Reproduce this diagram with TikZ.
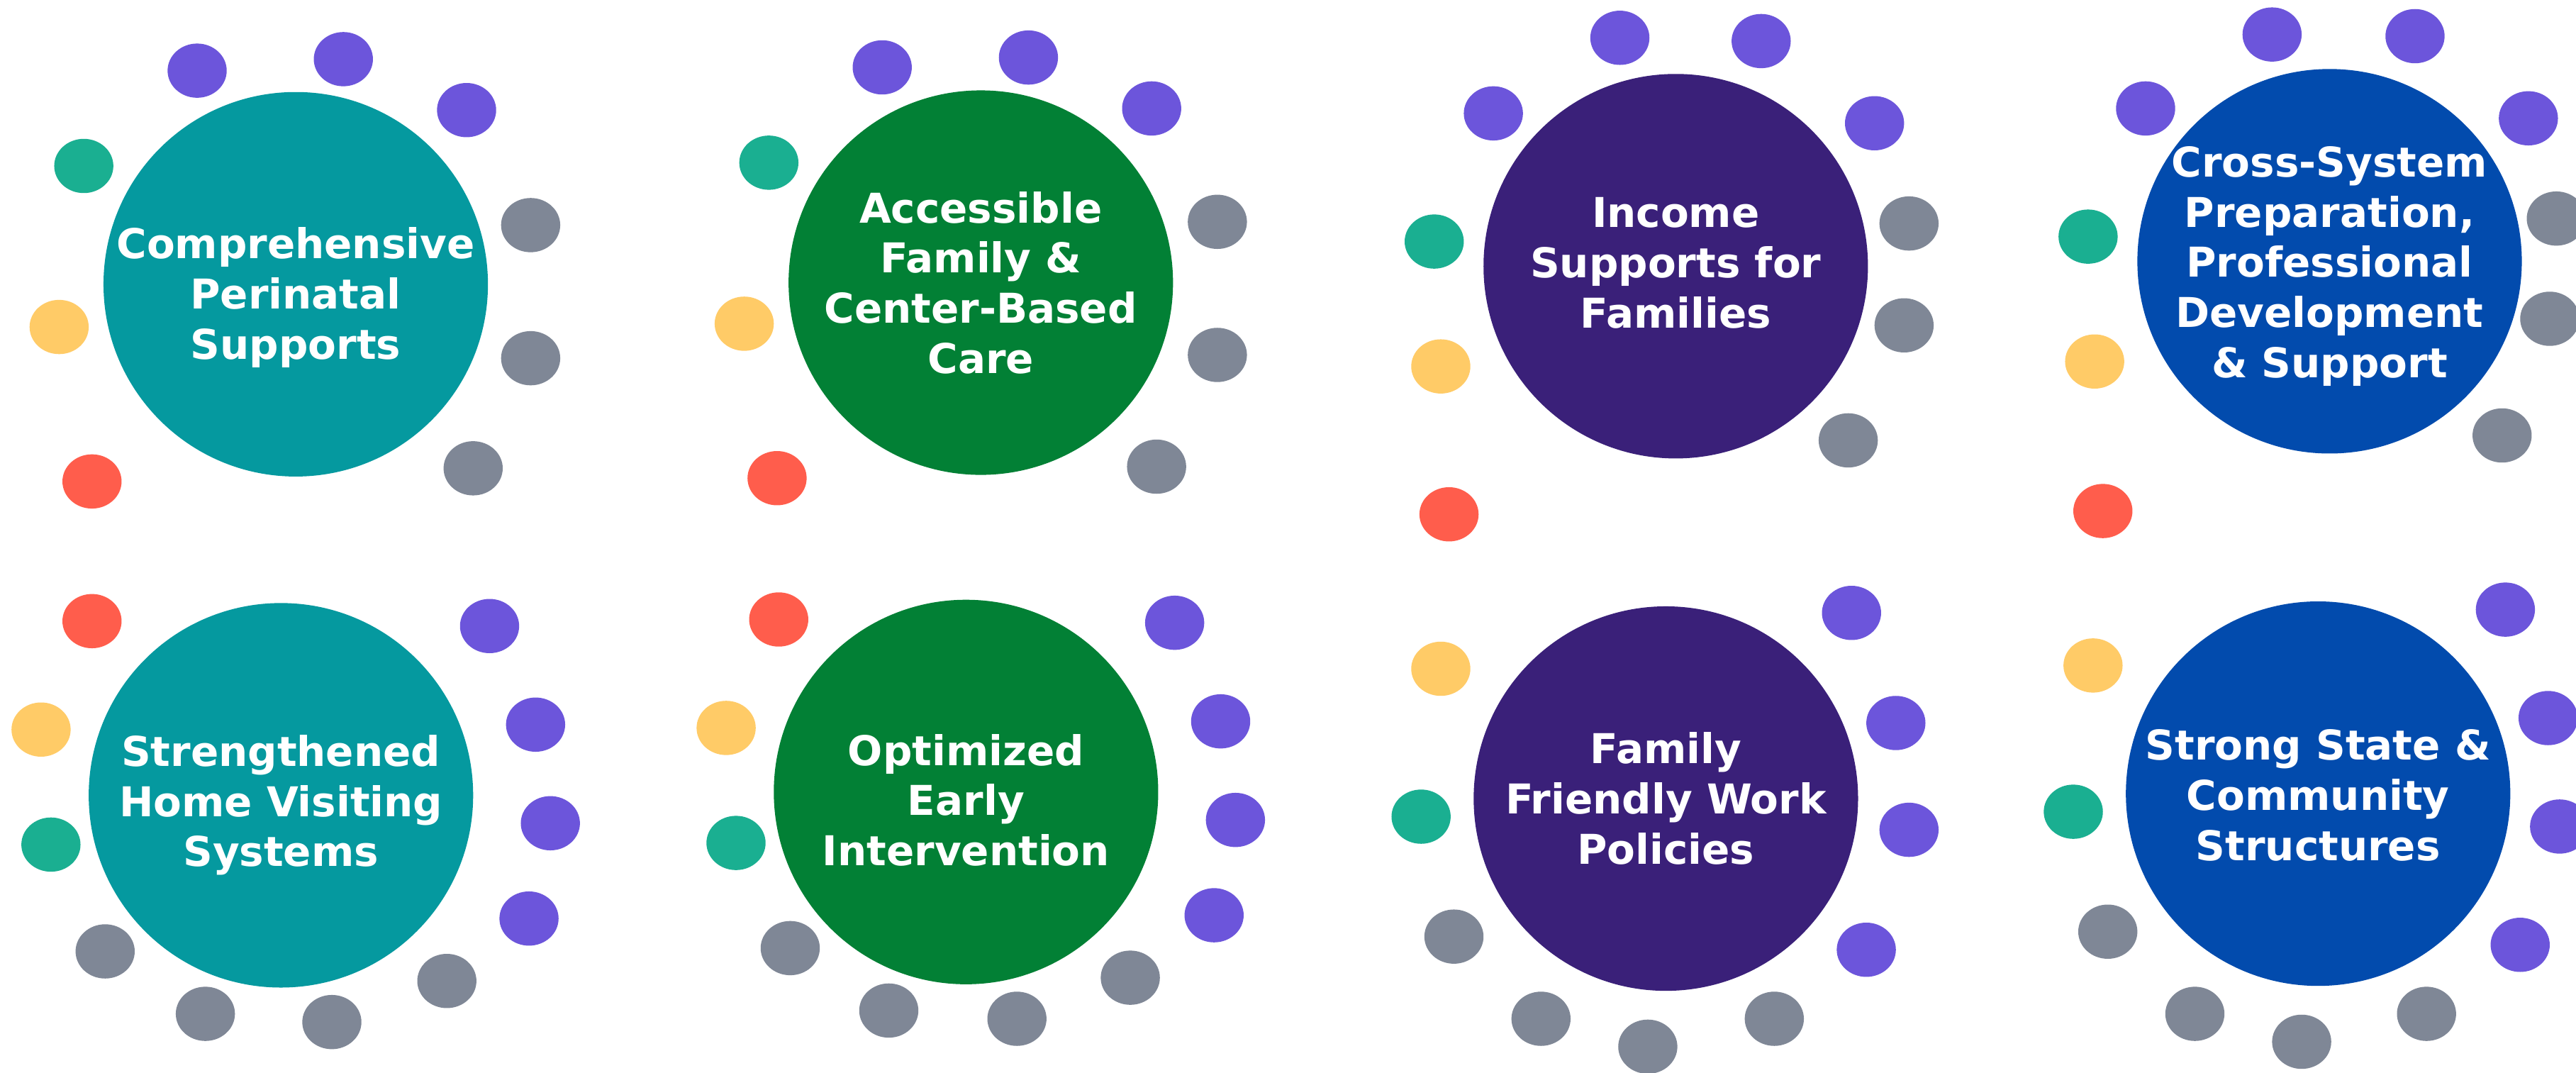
\documentclass[tikz,border=0pt]{standalone}
\usepackage{fontspec}
\setmainfont{DejaVu Sans}
\usetikzlibrary{shapes.geometric}
\definecolor{cteal}{HTML}{05999F}
\definecolor{cgreen}{HTML}{028035}
\definecolor{cpurple}{HTML}{3A2079}
\definecolor{cblue}{HTML}{024BAD}
\definecolor{dpur}{HTML}{6C55DB}
\definecolor{dgry}{HTML}{7F8796}
\definecolor{dgrn}{HTML}{1AAF91}
\definecolor{dyel}{HTML}{FFCB67}
\definecolor{dred}{HTML}{FF5D4C}
\tikzset{
  bigc/.style={circle, minimum size=234pt, inner sep=0pt, fill=#1},
  lbl/.style={inner sep=0pt, text=white, align=center,
    font=\fontsize{25}{30.5}\selectfont\bfseries},
  dot/.style={ellipse, minimum width=36pt, minimum height=33pt, inner sep=0pt, fill=#1},
}
\begin{document}
\begin{tikzpicture}[x=1pt,y=-1pt]
\clip (0,0) rectangle (1568,653);
\fill[white] (0,0) rectangle (1568,653);
% Panel 1
\node[bigc=cteal] (c1) at (180,173) {};
\node[lbl, yshift=-8pt] (t1) at (c1.center) {Comprehensive\\Perinatal\\Supports};
\node[dot=dpur] (p1a) at (120,43) {};
\node[dot=dpur] (p1b) at (209,36) {};
\node[dot=dpur] (p1c) at (284,67) {};
\node[dot=dgrn] (p1d) at (51,101) {};
\node[dot=dgry] (p1e) at (323,137) {};
\node[dot=dyel] (p1f) at (36,199) {};
\node[dot=dgry] (p1g) at (323,218) {};
\node[dot=dred] (p1h) at (56,293) {};
\node[dot=dgry] (p1i) at (288,285) {};
% Panel 2
\node[bigc=cgreen] (c2) at (597,172) {};
\node[lbl] (t2) at (c2.center) {Accessible\\Family \&\\Center-Based\\Care};
\node[dot=dpur] (p2a) at (537,41) {};
\node[dot=dpur] (p2b) at (626,35) {};
\node[dot=dpur] (p2c) at (701,66) {};
\node[dot=dgrn] (p2d) at (468,99) {};
\node[dot=dgry] (p2e) at (741,135) {};
\node[dot=dyel] (p2f) at (453,197) {};
\node[dot=dgry] (p2g) at (741,216) {};
\node[dot=dred] (p2h) at (473,291) {};
\node[dot=dgry] (p2i) at (704,284) {};
% Panel 3
\node[bigc=cpurple] (c3) at (1020,162) {};
\node[lbl, yshift=2pt] (t3) at (c3.center) {Income\\Supports for\\Families};
\node[dot=dpur] (p3a) at (986,23) {};
\node[dot=dpur] (p3b) at (1072,25) {};
\node[dot=dpur] (p3c) at (909,69) {};
\node[dot=dpur] (p3d) at (1141,75) {};
\node[dot=dgrn] (p3e) at (873,147) {};
\node[dot=dgry] (p3f) at (1162,136) {};
\node[dot=dgry] (p3g) at (1159,198) {};
\node[dot=dyel] (p3h) at (877,223) {};
\node[dot=dgry] (p3i) at (1125,268) {};
\node[dot=dred] (p3j) at (882,313) {};
% Panel 4
\node[bigc=cblue] (c4) at (1418,159) {};
\node[lbl, yshift=-3pt] (t4) at (c4.center) {Cross-System\\Preparation,\\Professional\\Development\\\& Support};
\node[dot=dpur] (p4a) at (1383,21) {};
\node[dot=dpur] (p4b) at (1470,22) {};
\node[dot=dpur] (p4c) at (1306,66) {};
\node[dot=dpur] (p4d) at (1539,72) {};
\node[dot=dgrn] (p4e) at (1271,144) {};
\node[dot=dgry] (p4f) at (1556,133) {};
\node[dot=dgry] (p4g) at (1552,194) {};
\node[dot=dyel] (p4h) at (1275,220) {};
\node[dot=dgry] (p4i) at (1523,265) {};
\node[dot=dred] (p4j) at (1280,311) {};
% Panel 5
\node[bigc=cteal] (c5) at (171,484) {};
\node[lbl, yshift=-6pt] (t5) at (c5.center) {Strengthened\\Home Visiting\\Systems};
\node[dot=dred] (p5a) at (56,378) {};
\node[dot=dpur] (p5b) at (298,381) {};
\node[dot=dyel] (p5c) at (25,444) {};
\node[dot=dpur] (p5d) at (326,441) {};
\node[dot=dgrn] (p5e) at (31,514) {};
\node[dot=dpur] (p5f) at (335,501) {};
\node[dot=dpur] (p5g) at (322,559) {};
\node[dot=dgry] (p5h) at (64,579) {};
\node[dot=dgry] (p5i) at (272,597) {};
\node[dot=dgry] (p5j) at (125,617) {};
\node[dot=dgry] (p5k) at (202,622) {};
% Panel 6
\node[bigc=cgreen] (c6) at (588,482) {};
\node[lbl, yshift=-5pt] (t6) at (c6.center) {Optimized\\Early\\Intervention};
\node[dot=dred] (p6a) at (474,377) {};
\node[dot=dpur] (p6b) at (715,379) {};
\node[dot=dyel] (p6c) at (442,443) {};
\node[dot=dpur] (p6d) at (743,439) {};
\node[dot=dgrn] (p6e) at (448,513) {};
\node[dot=dpur] (p6f) at (752,499) {};
\node[dot=dpur] (p6g) at (739,557) {};
\node[dot=dgry] (p6h) at (481,577) {};
\node[dot=dgry] (p6i) at (688,595) {};
\node[dot=dgry] (p6j) at (541,615) {};
\node[dot=dgry] (p6k) at (619,620) {};
% Panel 7
\node[bigc=cpurple] (c7) at (1014,486) {};
\node[lbl] (t7) at (c7.center) {Family\\Friendly Work\\Policies};
\node[dot=dpur] (p7a) at (1127,373) {};
\node[dot=dyel] (p7b) at (877,407) {};
\node[dot=dpur] (p7c) at (1154,440) {};
\node[dot=dgrn] (p7d) at (865,497) {};
\node[dot=dpur] (p7e) at (1162,505) {};
\node[dot=dgry] (p7f) at (885,570) {};
\node[dot=dpur] (p7g) at (1136,578) {};
\node[dot=dgry] (p7h) at (938,620) {};
\node[dot=dgry] (p7i) at (1080,620) {};
\node[dot=dgry] (p7j) at (1003,637) {};
% Panel 8
\node[bigc=cblue] (c8) at (1411,483) {};
\node[lbl, yshift=-1pt] (t8) at (c8.center) {Strong State \&\\Community\\Structures};
\node[dot=dpur] (p8a) at (1525,371) {};
\node[dot=dyel] (p8b) at (1274,405) {};
\node[dot=dpur] (p8c) at (1551,437) {};
\node[dot=dgrn] (p8d) at (1262,494) {};
\node[dot=dpur] (p8e) at (1558,503) {};
\node[dot=dgry] (p8f) at (1283,567) {};
\node[dot=dpur] (p8g) at (1534,575) {};
\node[dot=dgry] (p8h) at (1336,617) {};
\node[dot=dgry] (p8i) at (1477,617) {};
\node[dot=dgry] (p8j) at (1401,634) {};
\end{tikzpicture}
\end{document}
